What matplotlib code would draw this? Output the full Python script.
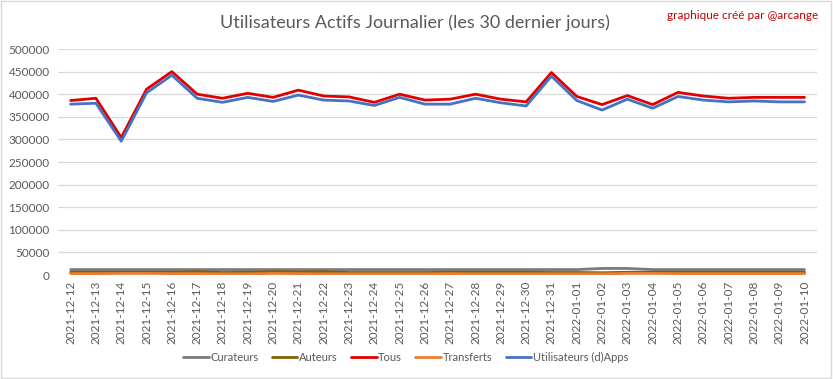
import matplotlib
matplotlib.use("Agg")
import matplotlib.pyplot as plt
from matplotlib.patches import Rectangle

plt.rcParams["font.family"] = ["Lato", "DejaVu Sans"]

dates = [
    "2021-12-12", "2021-12-13", "2021-12-14", "2021-12-15", "2021-12-16",
    "2021-12-17", "2021-12-18", "2021-12-19", "2021-12-20", "2021-12-21",
    "2021-12-22", "2021-12-23", "2021-12-24", "2021-12-25", "2021-12-26",
    "2021-12-27", "2021-12-28", "2021-12-29", "2021-12-30", "2021-12-31",
    "2022-01-01", "2022-01-02", "2022-01-03", "2022-01-04", "2022-01-05",
    "2022-01-06", "2022-01-07", "2022-01-08", "2022-01-09", "2022-01-10",
]

curateurs = [
    12000, 12000, 12000, 12000, 12000, 12000, 12000, 12000, 12000, 12000,
    12000, 12000, 12000, 12000, 12000, 12000, 12000, 12000, 12000, 12000,
    12000, 14500, 14500, 12000, 12000, 12000, 12000, 12000, 12000, 12000,
]
auteurs = [
    6000, 6000, 6000, 6000, 6000, 7000, 5500, 6000, 7000, 6500,
    7000, 5500, 5500, 5500, 5500, 6000, 6000, 6000, 6000, 5500,
    5500, 5000, 6000, 6000, 6000, 6000, 6000, 6000, 6000, 6000,
]
tous = [
    386000, 391000, 304000, 411000, 450000, 400000, 391000, 402000, 393000, 409000,
    396000, 394000, 382000, 400000, 387000, 389000, 400000, 389000, 383000, 448000,
    395000, 377000, 397000, 377000, 404000, 396000, 391000, 393000, 393000, 393000,
]
transferts = [
    3000, 3000, 3500, 3500, 3000, 3000, 2500, 2500, 3500, 3000,
    2500, 2500, 2500, 2500, 2500, 3000, 2500, 2500, 2500, 2500,
    2500, 2500, 3500, 3500, 3000, 3000, 3000, 3000, 3000, 3000,
]
dapps = [
    378000, 380000, 296000, 403000, 442000, 391000, 382000, 393000, 384000, 398000,
    387000, 385000, 375000, 393000, 378000, 378000, 391000, 381000, 374000, 440000,
    386000, 365000, 389000, 369000, 395000, 387000, 383000, 385000, 383000, 383000,
]

series = [
    ("Curateurs", curateurs, "#7a7a7a"),
    ("Auteurs", auteurs, "#7f6000"),
    ("Tous", tous, "#e00000"),
    ("Transferts", transferts, "#ed7d31"),
    ("Utilisateurs (d)Apps", dapps, "#4472c4"),
]

fig = plt.figure(figsize=(8.33, 3.79), dpi=100)
ax = fig.add_axes([0.0696, 0.2744, 0.9114, 0.5963])

x = list(range(len(dates)))
for name, vals, color in series:
    ax.plot(x, vals, color=color, lw=2.0, label=name, solid_capstyle="round")

ax.set_xlim(-0.5, len(dates) - 0.5)
ax.set_ylim(0, 500000)
ax.set_yticks(range(0, 500001, 50000))
ax.set_yticklabels([str(v) for v in range(0, 500001, 50000)])
ax.set_xticks(x)
ax.set_xticklabels(dates, rotation=90)
ax.tick_params(axis="both", length=0, labelsize=8.5, colors="#595959")
ax.tick_params(axis="x", pad=4)
ax.tick_params(axis="y", pad=6)
ax.grid(axis="y", color="#d9d9d9", lw=0.9)
ax.set_axisbelow(True)
for s in ax.spines.values():
    s.set_visible(False)

fig.text(0.498, 0.94, "Utilisateurs Actifs Journalier (les 30 dernier jours)",
         ha="center", va="center", fontsize=13, color="#595959")
fig.text(0.982, 0.96, "graphique créé par @arcange", ha="right", va="center",
         fontsize=8.5, color="#c00000")

fig.legend(loc="center", bbox_to_anchor=(0.487, 0.058), ncol=5, frameon=False,
           fontsize=8, handlelength=2.3, handletextpad=0.15, columnspacing=1.2,
           labelcolor="#595959")

fig.patches.append(Rectangle((0.001, 0.002), 0.996, 0.995, transform=fig.transFigure,
                             fill=False, edgecolor="#d9d9d9", lw=1))

fig.savefig("out.png", dpi=100)
